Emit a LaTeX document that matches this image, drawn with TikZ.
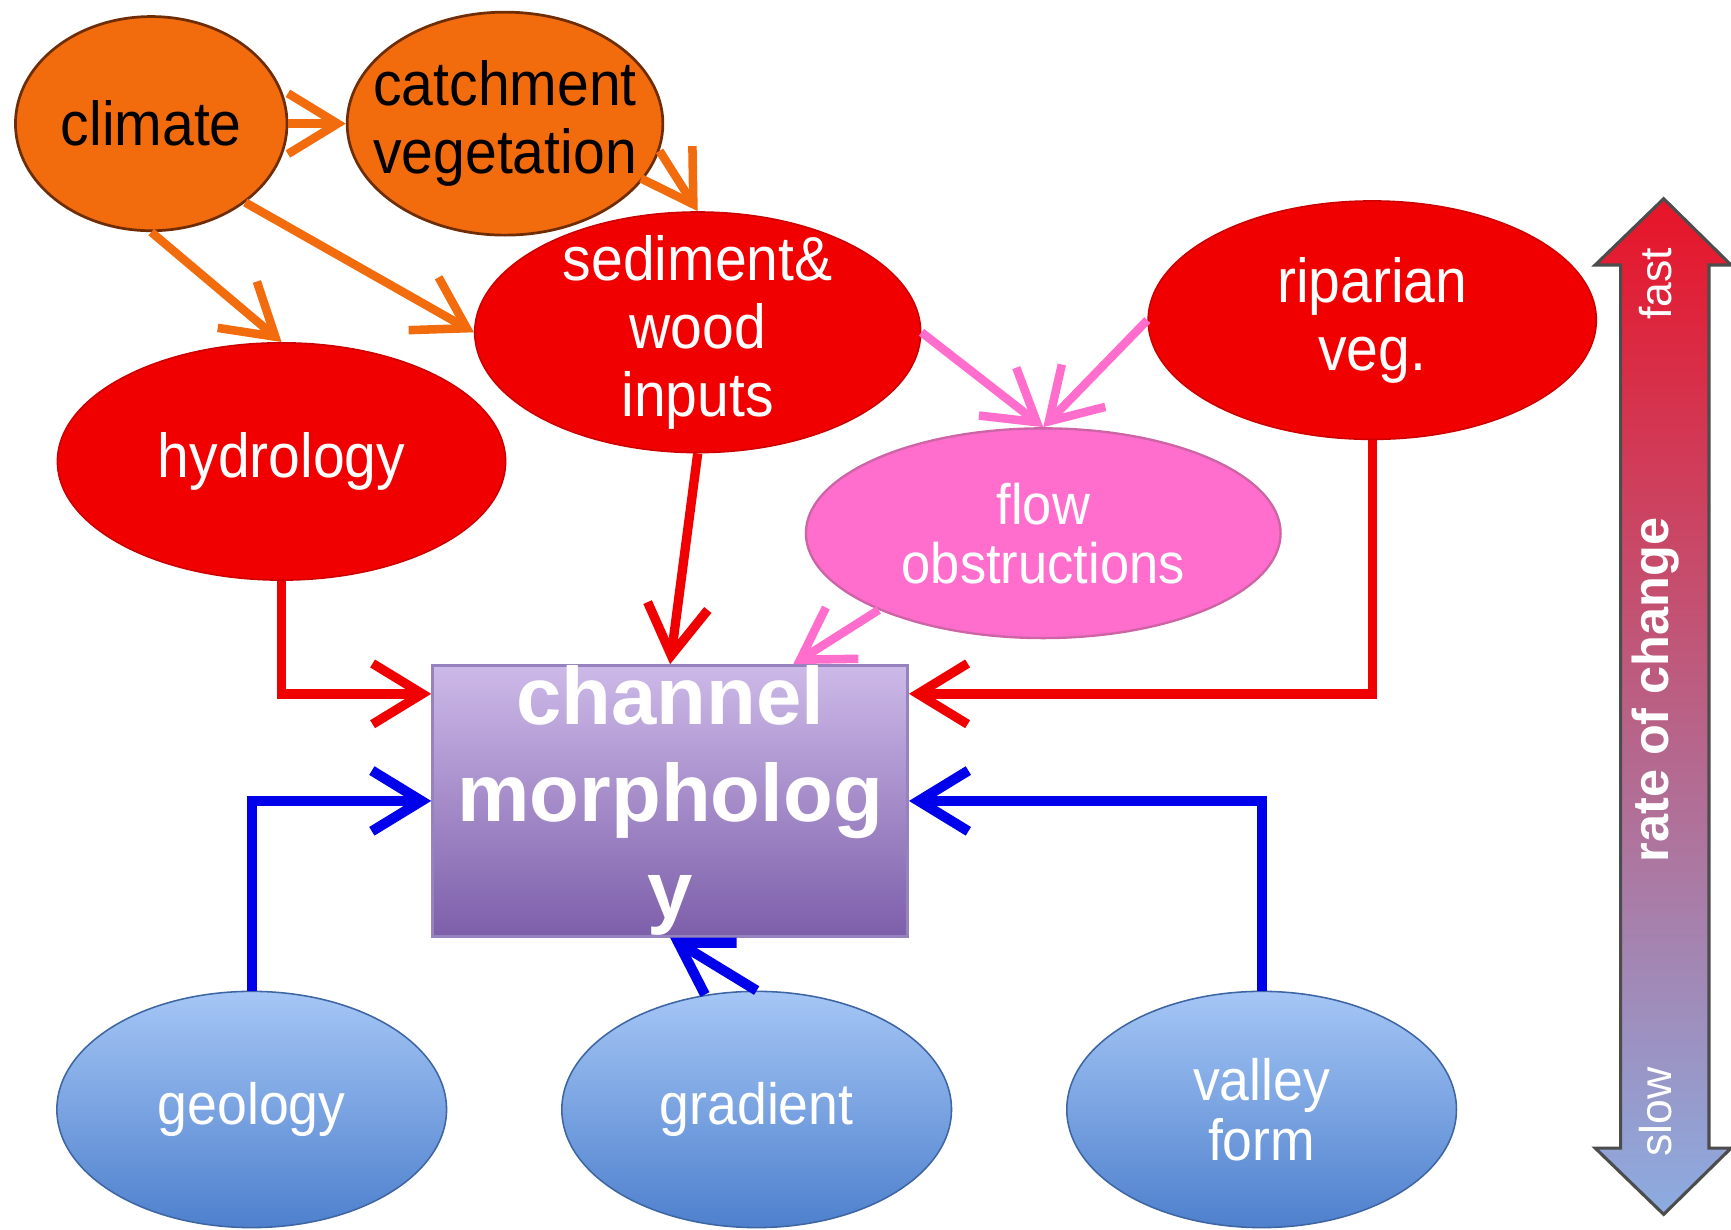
\documentclass[tikz,border=0pt]{standalone}
\usepackage{fontspec}
\setmainfont{Liberation Sans}
\newfontfamily\condfont[FakeStretch=0.92]{Liberation Sans}
\usepackage{tikz}
\usetikzlibrary{positioning}
\usetikzlibrary{shapes.geometric}
\usetikzlibrary{arrows.meta}

\definecolor{climfill}{RGB}{242,108,14}
\definecolor{climdraw}{RGB}{110,45,5}
\definecolor{inred}{RGB}{240,0,0}
\definecolor{obfill}{RGB}{255,110,205}
\definecolor{obdraw}{RGB}{205,100,165}
\definecolor{ctlblue}{RGB}{0,0,235}
\definecolor{skytop}{RGB}{165,198,245}
\definecolor{skybot}{RGB}{78,128,205}
\definecolor{boxtop}{RGB}{205,185,232}
\definecolor{boxbot}{RGB}{125,95,170}
\definecolor{boxdraw}{RGB}{150,130,190}
\definecolor{ratetop}{RGB}{232,20,40}
\definecolor{ratemid}{RGB}{190,110,160}
\definecolor{ratebot}{RGB}{140,172,225}

\begin{document}
\begin{tikzpicture}[driver/.style = {ellipse, draw=climdraw, line width=0.7pt, fill=climfill, inner sep=0pt},
    input/.style = {ellipse, draw=inred!85!black, line width=0.4pt, fill=inred, inner sep=0pt},
    obstr/.style = {ellipse, draw=obdraw, line width=0.6pt, fill=obfill, inner sep=0pt},
    ctrl/.style = {ellipse, draw=skybot!80!black, line width=0.4pt, top color=skytop, bottom color=skybot, inner sep=0pt},
    morph/.style = {rectangle, draw=boxdraw, line width=0.8pt, top color=boxtop, bottom color=boxbot, inner sep=0pt},
    lab/.style = {align=center, font=\condfont\fontsize{16}{17.6}\selectfont},
    oline/.style = {draw=climfill, line width=2.2pt, -{Straight Barb[length=4.5mm, width=5.5mm]}},
    rline/.style = {draw=inred, line width=2.4pt, -{Straight Barb[length=4.5mm, width=5.5mm]}},
    pline/.style = {draw=obfill, line width=2.2pt, -{Straight Barb[length=4.5mm, width=5.5mm]}},
    bline/.style = {draw=ctlblue, line width=2.6pt, -{Straight Barb[length=4.5mm, width=5.5mm]}}]
            \useasboundingbox (0,0) rectangle (15.68,-11.133);
            % drivers
            \node[driver, minimum width=2.46cm, minimum height=1.94cm, label={[lab, text=black]center:climate}](climate) at (1.37,-1.12){};
            \node[driver, minimum width=2.86cm, minimum height=2.02cm, label={[lab, text=black]center:catchment\\vegetation}](catch)[right=0.52cm of climate]{};
            \node[input, minimum width=4.04cm, minimum height=2.18cm, label={[lab, text=white]center:sediment\&\\wood\\inputs}](sed) at (6.32,-3.01){};
            \node[input, minimum width=4.06cm, minimum height=2.15cm, label={[lab, text=white]center:hydrology}](hydro) at (2.55,-4.18){};
            \node[input, minimum width=4.06cm, minimum height=2.16cm, label={[lab, text=white]center:riparian\\veg.}](ripar) at (12.43,-2.90){};
            \node[obstr, minimum width=4.30cm, minimum height=1.90cm, label={[lab, text=white, font=\condfont\fontsize{14.7}{15.2}\selectfont]center:flow\\obstructions}](flow) at (9.45,-4.83){};
            \node[morph, minimum width=4.30cm, minimum height=2.45cm, label={[align=center, text=white, font=\bfseries\fontsize{21}{25}\selectfont]center:channel\\morpholog\\y}](chan) at (6.07,-7.255){};
            % slow controls
            \node[ctrl, minimum width=3.53cm, minimum height=2.14cm, label={[lab, text=white, font=\condfont\fontsize{15}{15.6}\selectfont]center:geology}](geo) at (2.28,-10.05){};
            \node[ctrl, minimum width=3.53cm, minimum height=2.14cm, label={[lab, text=white, font=\condfont\fontsize{15}{15.6}\selectfont]center:gradient}](grad)[right=1.03cm of geo]{};
            \node[ctrl, minimum width=3.53cm, minimum height=2.14cm, label={[lab, text=white, font=\condfont\fontsize{15}{15.6}\selectfont]center:valley\\form}](valley)[right=1.03cm of grad]{};
            \draw[oline] (climate) -- (catch);
            \draw[oline] (climate.south) -- (hydro.north);
            \draw[oline] (climate.-40) -- (sed.west);
            \draw[oline] (catch.-10) -- (sed.north);
            \draw[pline] (sed.east) -- (flow.north);
            \draw[pline] (ripar.west) -- (flow.north);
            \draw[pline] (flow.-155) -- (chan.48);
            \draw[rline] (sed.south) -- (chan.north);
            \draw[rline] (hydro.south) |- ([yshift=0.97cm]chan.west);
            \draw[rline] (ripar.south) |- ([yshift=0.97cm]chan.east);
            \draw[bline] (geo.north) |- (chan.west);
            \draw[bline] (valley.north) |- (chan.east);
            \draw[bline] (grad.north) -- (chan.south);
            % rate of change
            \draw[draw=black!70, line width=0.8pt, top color=ratetop, middle color=ratemid, bottom color=ratebot]
                (15.07,-1.80) -- (15.68,-2.40) -- (15.48,-2.40) -- (15.48,-10.40) -- (15.68,-10.40) -- (15.07,-11.00)
                -- (14.45,-10.40) -- (14.68,-10.40) -- (14.68,-2.40) -- (14.45,-2.40) -- cycle;
            \node[text=white, rotate=90, font=\fontsize{11.5}{12}\selectfont](fast) at (15.00,-2.57){fast};
            \node[text=white, rotate=90, font=\bfseries\fontsize{13}{14}\selectfont](rate) at (15.00,-6.25){rate of change};
            \node[text=white, rotate=90, font=\fontsize{11.5}{12}\selectfont](slow) at (15.00,-10.07){slow};
        \end{tikzpicture}
\end{document}
